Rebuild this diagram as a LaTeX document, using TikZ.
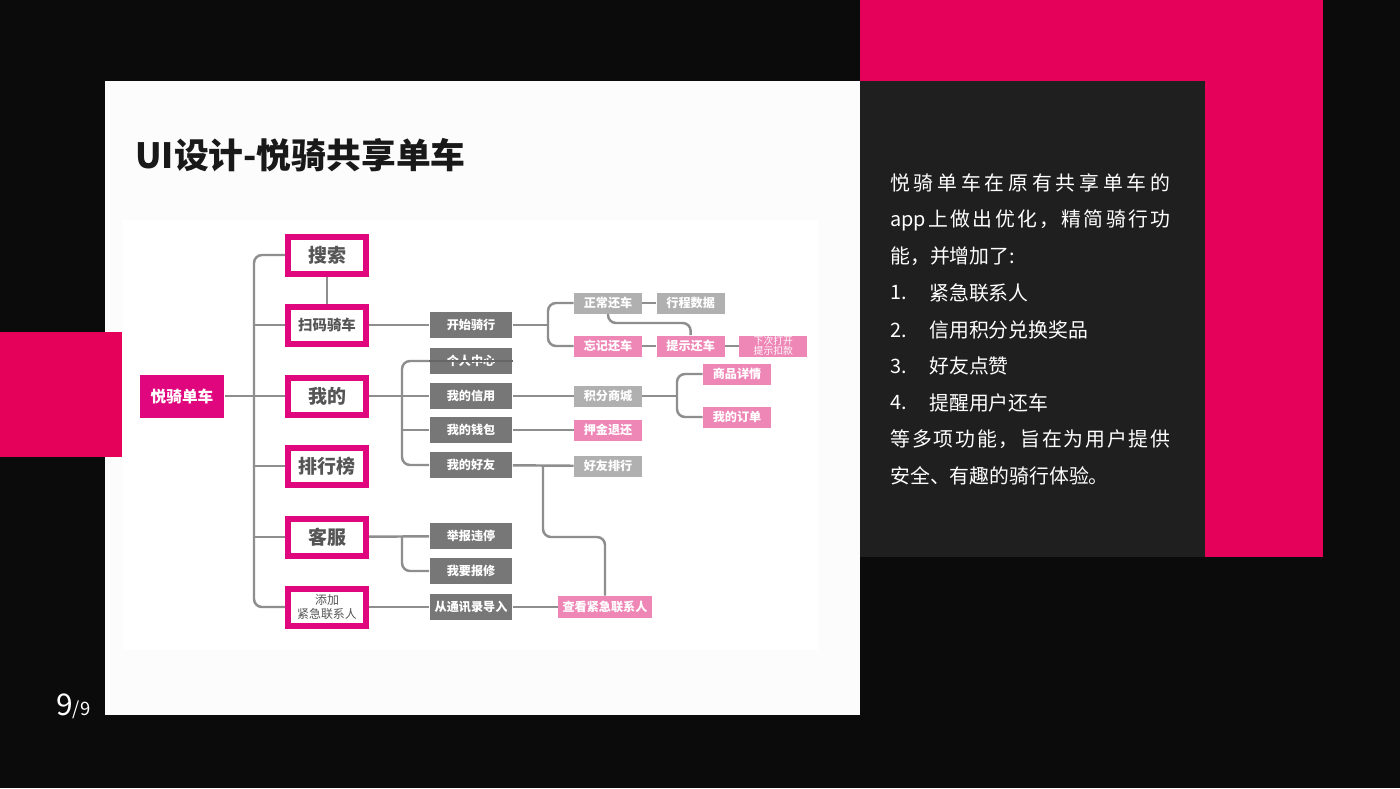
\documentclass[tikz,border=0pt]{standalone}
\usepackage{fontspec}
\setmainfont{Noto Sans CJK SC}
\usetikzlibrary{positioning}

\definecolor{slideblack}{HTML}{0B0B0B}
\definecolor{slidepink}{HTML}{E5005A}
\definecolor{darkpanel}{HTML}{1F1F1F}
\definecolor{panelwhite}{HTML}{FCFCFC}
\definecolor{mag}{HTML}{E0067E}
\definecolor{boxtext}{HTML}{555555}
\definecolor{dgray}{HTML}{777777}
\definecolor{lgray}{HTML}{B0B0B0}
\definecolor{lpink}{HTML}{EE86B6}
\definecolor{lineg}{HTML}{8E8E8E}

\pgfdeclarelayer{bg}
\pgfdeclarelayer{lines}
\pgfsetlayers{bg,lines,main}

\tikzset{
  lvone/.style={draw=mag, line width=0.12cm, fill=white, minimum width=1.56cm,
    minimum height=0.74cm, inner sep=0pt, align=center, text=boxtext,
    font=\bfseries\fontsize{10.8pt}{12pt}\selectfont},
  rootbox/.style={fill=mag, minimum width=1.7cm, minimum height=0.86cm, inner sep=0pt,
    text=white, font=\bfseries\fontsize{8.9pt}{10pt}\selectfont},
  darkbox/.style={fill=dgray, minimum width=1.66cm, minimum height=0.52cm, inner sep=0pt,
    text=white, font=\bfseries\fontsize{6.9pt}{8pt}\selectfont},
  greybox/.style={fill=lgray, minimum width=1.36cm, minimum height=0.42cm, inner sep=0pt,
    align=center, text=white, font=\bfseries\fontsize{6.9pt}{8pt}\selectfont},
  pinkbox/.style={greybox, fill=lpink},
  conn/.style={draw=lineg, line width=1.4pt, rounded corners=0.16cm},
  sidetext/.style={anchor=west, inner sep=0pt, text=white,
    font=\fontsize{11.3pt}{13pt}\selectfont},
}

\begin{document}
\begin{tikzpicture}[x=0.02cm, y=-0.02cm]
  % Slide background
  \begin{pgfonlayer}{bg}
    \fill[slideblack] (0,0) rectangle (1400,788);
    \fill[slidepink] (860,0) rectangle (1323,557);
    \fill[panelwhite] (105,81) rectangle (860,715);
    \fill[darkpanel] (860,81) rectangle (1205,557);
    \fill[slidepink] (0,332) rectangle (123,457);
    \fill[white] (122,220) rectangle (818,650);
  \end{pgfonlayer}

  % Title and page number
  \node[anchor=west, inner sep=0pt, text=black!90, font=\bfseries\fontsize{19.8pt}{22pt}\selectfont]
    (title) at (135,155) {UI设计-悦骑共享单车};
  \node[anchor=base west, inner sep=0pt, text=white] (page) at (56,715)
    {\fontsize{17pt}{18pt}\selectfont 9\fontsize{10.5pt}{11pt}\selectfont/9};

  % Root and first level
  \node[rootbox] (root) at (182,396) {悦骑单车};
  \node[lvone] (sousuo) at (327,255) {搜索};
  \node[lvone, font=\bfseries\fontsize{8.2pt}{9pt}\selectfont] (saoma) at (327,325) {扫码骑车};
  \node[lvone] (wode) at (327,396) {我的};
  \node[lvone] (paihang) at (327,466) {排行榜};
  \node[lvone] (kefu) at (327,537) {客服};
  \node[lvone, font=\fontsize{6.8pt}{7.6pt}\selectfont] (tianjia) at (327,607) {添加\\紧急联系人};

  % Second level
  \node[darkbox] (kaishi) at (471,325) {开始骑行};
  \node[darkbox] (geren) at (471,361) {个人中心};
  \node[darkbox] (xinyong) at (471,396) {我的信用};
  \node[darkbox] (qianbao) at (471,430) {我的钱包};
  \node[darkbox] (haoyou) at (471,465) {我的好友};
  \node[darkbox] (jubao) at (471,536) {举报违停};
  \node[darkbox] (baoxiu) at (471,571) {我要报修};
  \node[darkbox] (tongxun) at (471,607) {从通讯录导入};

  % Third level
  \node[greybox] (zhengchang) at (608,303) {正常还车};
  \node[greybox, right=0.28cm of zhengchang] (xingcheng) {行程数据};
  \node[pinkbox] (wangji) at (608,346) {忘记还车};
  \node[pinkbox, right=0.28cm of wangji] (tishi) {提示还车};
  \node[pinkbox, right=0.28cm of tishi, font=\fontsize{5.6pt}{5.6pt}\selectfont] (xiaci) {下次打开\\提示扣款};
  \node[greybox] (jifen) at (608,396) {积分商城};
  \node[pinkbox] (shangpin) at (737,374) {商品详情};
  \node[pinkbox] (dingdan) at (737,417) {我的订单};
  \node[pinkbox] (yajin) at (608,430) {押金退还};
  \node[greybox] (paihangf) at (608,466) {好友排行};
  \node[pinkbox, minimum width=1.88cm, minimum height=0.44cm] (chakan) at (605,607) {查看紧急联系人};

  % Branch points
  \coordinate (tk) at (254,396);
  \coordinate (wb) at (402,396);
  \coordinate (kb) at (402,536);
  \coordinate (kk) at (548,325);
  \coordinate (jb) at (677,396);
  \coordinate (zt) at (650,323);
  \coordinate (hb) at (543,465);
  \coordinate (hm) at (575,537);

  % Connectors
  \begin{pgfonlayer}{lines}
    \draw[conn] (sousuo.west) -| (tk) |- (tianjia.west);
    \draw[conn] (root) -- (wode);
    \draw[conn] (saoma.west) -- (saoma.west -| tk);
    \draw[conn] (paihang.west) -- (paihang.west -| tk);
    \draw[conn] (kefu.west) -- (kefu.west -| tk);
    \draw[conn] (sousuo) -- (saoma);

    \draw[conn] (saoma) -- (kaishi);
    \draw[conn] (wode) -- (xinyong);
    \draw[conn] (geren.west) -| (wb) |- (haoyou.west);
    \draw[conn] (qianbao.west) -- (qianbao.west -| wb);
    \draw[conn] (kefu) -- (jubao);
    \draw[conn] (kb) |- (baoxiu.west);
    \draw[conn] (tianjia) -- (tongxun);

    \draw[conn] (kaishi) -- (kk);
    \draw[conn] (zhengchang.west) -| (kk) |- (wangji.west);
    \draw[conn] (zhengchang) -- (xingcheng);
    \draw[conn] (wangji) -- (tishi);
    \draw[conn] (tishi) -- (xiaci);
    \draw[conn] (zhengchang.south) |- (zt) -| (tishi.north);
    \draw[conn] (xinyong) -- (jifen);
    \draw[conn] (jifen) -- (jb);
    \draw[conn] (shangpin.west) -| (jb) |- (dingdan.west);
    \draw[conn] (qianbao) -- (yajin);
    \draw[conn] (haoyou) -- (paihangf);
    \draw[conn] (hb) |- (hm) -| (chakan.north);
    \draw[conn] (tongxun) -- (chakan);
  \end{pgfonlayer}
  % line running across the personal-centre box
  \draw[line width=1.4pt, draw=black!60] (geren.west) -- (geren.east);

  % Side text
  \node[sidetext] (s1) at (890,183) {\makebox[5.6cm][s]{悦\hfill 骑\hfill 单\hfill 车\hfill 在\hfill 原\hfill 有\hfill 共\hfill 享\hfill 单\hfill 车\hfill 的}};
  \node[sidetext] (s2) at (890,220) {\makebox[5.6cm][s]{app\hfill 上\hfill 做\hfill 出\hfill 优\hfill 化\hfill ，\hfill 精\hfill 简\hfill 骑\hfill 行\hfill 功}};
  \node[sidetext] (s3) at (890,256) {能，并增加了:};
  \node[sidetext] (n1) at (890,293) {1.};
  \node[sidetext] (t1) at (929,293) {紧急联系人};
  \node[sidetext] (n2) at (890,330) {2.};
  \node[sidetext] (t2) at (929,330) {信用积分兑换奖品};
  \node[sidetext] (n3) at (890,366) {3.};
  \node[sidetext] (t3) at (929,366) {好友点赞};
  \node[sidetext] (n4) at (890,403) {4.};
  \node[sidetext] (t4) at (929,403) {提醒用户还车};
  \node[sidetext] (s4) at (890,439) {\makebox[5.6cm][s]{等\hfill 多\hfill 项\hfill 功\hfill 能\hfill ，\hfill 旨\hfill 在\hfill 为\hfill 用\hfill 户\hfill 提\hfill 供}};
  \node[sidetext] (s5) at (890,476) {安全、有趣的骑行体验。};
\end{tikzpicture}
\end{document}
